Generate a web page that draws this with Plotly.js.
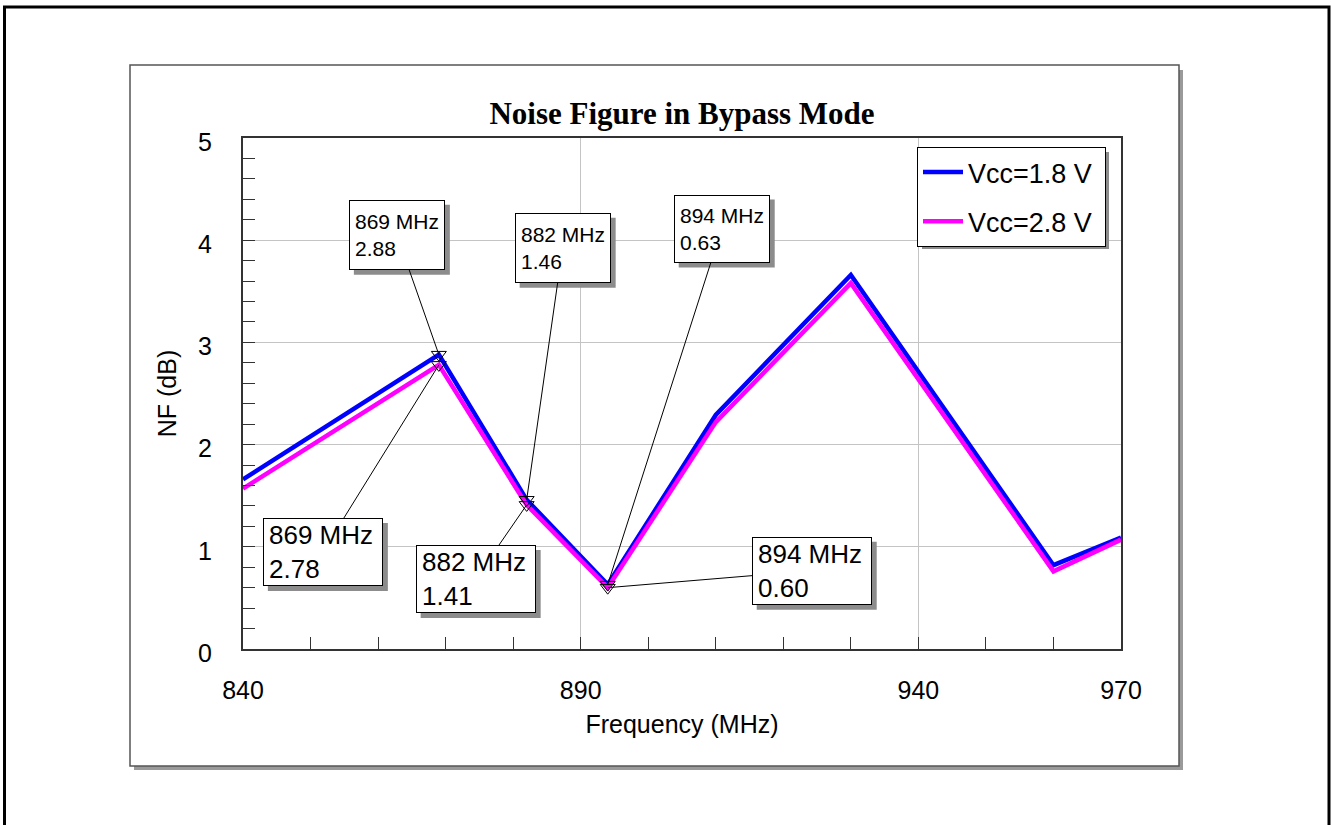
<!DOCTYPE html>
<html>
<head>
<meta charset="utf-8">
<script src="https://cdn.plot.ly/plotly-3.0.1.min.js"></script>
<style>
  html, body { margin: 0; padding: 0; background: #ffffff; }
  #chart { width: 1331px; height: 825px; }
</style>
</head>
<body>
<div id="chart"></div>
<script>
// Frequency sweep (MHz) and measured noise figure (dB)
const freqMHz = [840, 869, 882, 894, 910, 930, 960, 970];
const nfVcc18 = [1.66, 2.88, 1.46, 0.63, 2.29, 3.66, 0.82, 1.09];
const nfVcc28 = [1.57, 2.78, 1.41, 0.60, 2.22, 3.58, 0.76, 1.07];

const seriesNames = ['Vcc=1.8 V', 'Vcc=2.8 V'];
const seriesColors = ['#0000ff', '#ff00ff'];

// Marker readouts
const markerFreqs = [869, 882, 894];

const xTickVals = [840, 890, 940, 970];
const yTickVals = [0, 1, 2, 3, 4, 5];
const xRange = [840, 970];
const yRange = [0, 5];

// Plot-area geometry in pixels
const W = 1331, H = 825;
const PL = 243, PR = 1121, PT = 138, PB = 649;
const px = v => (v - PL) / (PR - PL);
const py = v => (PB - v) / (PB - PT);
const xPix = f => PL + (f - xRange[0]) / (xRange[1] - xRange[0]) * (PR - PL);
const yPix = v => PB - (v - yRange[0]) / (yRange[1] - yRange[0]) * (PB - PT);

function valueAt(series, f) {
  return series[freqMHz.indexOf(f)];
}

const FONT = 'Liberation Sans, Arial, sans-serif';
const SHADOW = '#8c8c8c';
const SHADOW_OFF = 5;
const PAD = 5, BORDER = 1;

const traces = [
  {
    x: freqMHz, y: nfVcc18, name: seriesNames[0] + '\u00a0', legendgroup: 'a', mode: 'lines',
    line: {color: seriesColors[0], width: 4.5}, hoverinfo: 'skip'
  },
  {
    x: freqMHz, y: nfVcc28, name: seriesNames[1] + '\u00a0', legendgroup: 'b', mode: 'lines',
    line: {color: seriesColors[1], width: 4.5}, hoverinfo: 'skip'
  },
  {
    x: markerFreqs, y: markerFreqs.map(f => valueAt(nfVcc18, f)),
    mode: 'markers', showlegend: false, hoverinfo: 'skip',
    marker: {symbol: 'triangle-down-open', size: 13, color: '#000000', line: {width: 1, color: '#000000'}}
  },
  {
    x: markerFreqs, y: markerFreqs.map(f => valueAt(nfVcc28, f)),
    mode: 'markers', showlegend: false, hoverinfo: 'skip',
    marker: {symbol: 'triangle-down-open', size: 13, color: '#000000', line: {width: 1, color: '#000000'}}
  }
];

// Readout boxes: [series, freq, ax, ay, fontSize, textWidth, textHeight]
const readouts = [
  [nfVcc18, 869, -42, -120, 21, 84, 58],
  [nfVcc18, 882, 36, -252, 21, 84, 58],
  [nfVcc18, 894, 114, -356, 21, 84, 56],
  [nfVcc28, 869, -116, 187, 26, 108, 56],
  [nfVcc28, 882, -51, 74, 26, 108, 56],
  [nfVcc28, 894, 204, -17, 26, 108, 56]
];

const annotations = [];
const boxShadows = [];
readouts.forEach(([s, f, ax, ay, fs, bw, bh]) => {
  const v = valueAt(s, f);
  annotations.push({
    x: f, y: v, xref: 'x', yref: 'y',
    text: f + ' MHz<br>' + v.toFixed(2), align: 'left', valign: 'middle',
    showarrow: true, arrowcolor: '#000000', arrowhead: 0, arrowwidth: 1, standoff: 0,
    ax: ax, ay: ay,
    font: {family: FONT, size: fs, color: '#000000'},
    bgcolor: '#ffffff', bordercolor: '#000000', borderwidth: BORDER, borderpad: PAD,
    width: bw, height: bh
  });
  // shadow behind the box, offset down-right
  const ow = bw + 2 * (PAD + BORDER), oh = bh + 2 * (PAD + BORDER);
  const cx = xPix(f) + ax, cy = yPix(v) + ay;
  boxShadows.push({
    type: 'rect', xref: 'paper', yref: 'paper', layer: 'above',
    x0: px(cx - ow / 2 + SHADOW_OFF), x1: px(cx + ow / 2 + SHADOW_OFF),
    y0: py(cy + oh / 2 + SHADOW_OFF), y1: py(cy - oh / 2 + SHADOW_OFF),
    line: {width: 0}, fillcolor: SHADOW
  });
});

const frameShapes = [
  // outer frame
  {type: 'rect', xref: 'paper', yref: 'paper', layer: 'below',
   x0: px(4.5), x1: px(1329), y0: py(840), y1: py(7),
   line: {color: '#000000', width: 3}, fillcolor: 'rgba(0,0,0,0)'},
  // panel shadow
  {type: 'rect', xref: 'paper', yref: 'paper', layer: 'below',
   x0: px(134), x1: px(1183), y0: py(770), y1: py(70),
   line: {width: 0}, fillcolor: '#9a9a9a'},
  // panel
  {type: 'rect', xref: 'paper', yref: 'paper', layer: 'below',
   x0: px(130), x1: px(1179), y0: py(766), y1: py(65),
   line: {color: '#555555', width: 1.5}, fillcolor: '#ffffff'},
  // legend shadow
  {type: 'rect', xref: 'paper', yref: 'paper', layer: 'above',
   x0: px(922), x1: px(1109), y0: py(249), y1: py(152),
   line: {width: 0}, fillcolor: SHADOW}
];

const tickFont = {family: FONT, size: 25, color: '#000000'};

const layout = {
  width: W, height: H,
  margin: {l: PL, r: W - PR, t: PT, b: H - PB},
  paper_bgcolor: '#ffffff',
  plot_bgcolor: 'rgba(0,0,0,0)',
  showlegend: true,
  title: {
    text: '<b>Noise Figure in Bypass Mode</b>',
    font: {family: 'Liberation Serif, Times New Roman, serif', size: 31, color: '#000000'},
    xref: 'paper', x: 0.5, xanchor: 'center',
    yref: 'container', y: 1 - 113 / H, yanchor: 'middle'
  },
  xaxis: {
    range: xRange,
    tickmode: 'array', tickvals: xTickVals, ticktext: xTickVals.map(String),
    ticks: 'inside', ticklen: 12, tickwidth: 1, tickcolor: '#333333',
    ticklabelstandoff: 18,
    tickfont: tickFont,
    showgrid: true, gridcolor: '#c4c4c4', gridwidth: 1,
    zeroline: false,
    showline: true, linecolor: '#333333', linewidth: 2, mirror: true,
    minor: {tick0: 840, dtick: 10, ticks: 'inside', ticklen: 12, tickwidth: 1, tickcolor: '#333333', showgrid: false},
    title: {text: 'Frequency (MHz)', font: tickFont, standoff: 12}
  },
  yaxis: {
    range: yRange,
    tickmode: 'array', tickvals: yTickVals, ticktext: yTickVals.map(String),
    ticks: 'inside', ticklen: 12, tickwidth: 1, tickcolor: '#333333',
    ticklabelstandoff: 24, ticklabelshift: 4,
    tickfont: tickFont,
    showgrid: true, gridcolor: '#c4c4c4', gridwidth: 1,
    zeroline: false,
    showline: true, linecolor: '#333333', linewidth: 2, mirror: true,
    minor: {tick0: 0, dtick: 0.2, ticks: 'inside', ticklen: 12, tickwidth: 1, tickcolor: '#333333', showgrid: false},
    title: {text: 'NF (dB)', font: tickFont, standoff: 14}
  },
  legend: {
    x: px(917), y: py(147), xanchor: 'left', yanchor: 'top',
    bgcolor: '#ffffff', bordercolor: '#000000', borderwidth: 1,
    font: {family: FONT, size: 27, color: '#000000'},
    itemwidth: 40,
    tracegroupgap: 11
  },
  shapes: frameShapes.concat(boxShadows),
  annotations: annotations
};

Plotly.newPlot('chart', traces, layout, {displayModeBar: false, staticPlot: true});
</script>
</body>
</html>
